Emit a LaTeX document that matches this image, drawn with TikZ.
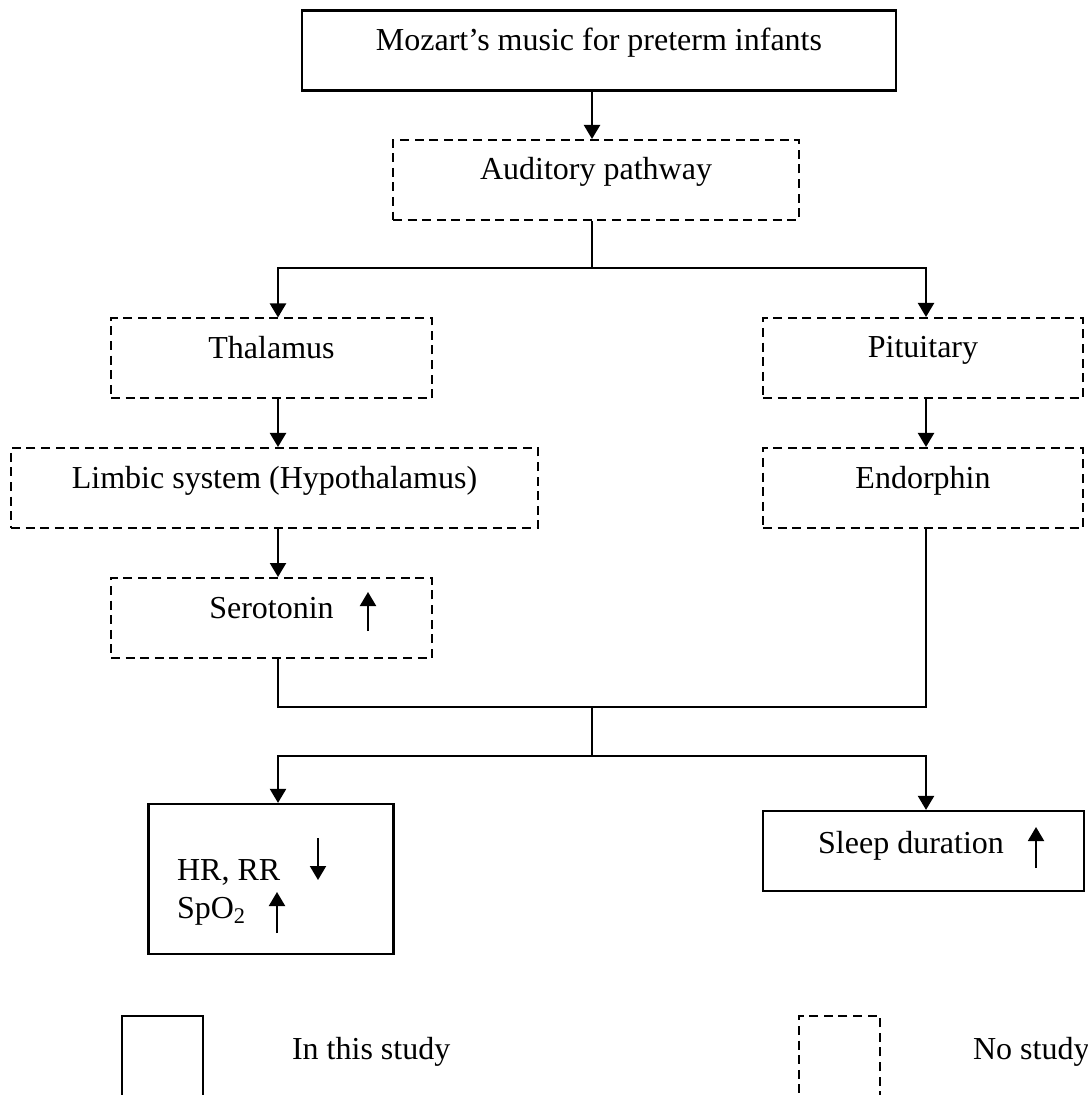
\documentclass[tikz,border=0pt]{standalone}
\usepackage{fontspec}
\setmainfont{Liberation Serif}
\usetikzlibrary{positioning,calc,arrows.meta}
\def\BoxHeight{40pt}
\def\SideWidth{160.5pt}
\def\LegendWidth{40.5pt}
\tikzset{
  signal/.style={-{Triangle[length=7pt,width=8pt]},line width=1.1pt},
  trend/.style={signal,line width=1pt},
  studybox/.style={
    rectangle,
    draw=black,
    line width=1.1pt,
    minimum height=\BoxHeight,
    inner sep=0pt,
    text height=0.3em,
    text depth=0.3em
  },
  nostudybox/.style={
    studybox,
    line width=1pt,
    dash pattern=on 4.5pt off 2.8pt
  }
}

\begin{document}
\begin{tikzpicture}[x=0.5pt,y=-0.5pt,font=\fontsize{16}{19}\selectfont]
  \clip (0,0) rectangle (1087,1095);

  \node[studybox, minimum width=297pt] (mozart) at (599,50.5) {Mozart’s music for preterm infants};
  \node[nostudybox, minimum width=203pt] (auditory) at (596,180) {Auditory pathway};

  % left branch
  \node[nostudybox, minimum width=\SideWidth] (thalamus) at (271.5,358.5) {Thalamus};
  \node[nostudybox, minimum width=263.5pt] (limbic) at (274.5,488) {Limbic system (Hypothalamus)};
  \node[nostudybox, minimum width=\SideWidth] (serotonin) at (271.5,618) {Serotonin};

  % right branch
  \node[nostudybox, minimum width=160pt] (pituitary) at (923,358) {Pituitary};
  \node[nostudybox, minimum width=160pt] (endorphin) at (923,488) {Endorphin};

  % outcomes
  \node[studybox, minimum width=122.5pt, minimum height=75pt] (vitals) at (271,879) {};
  \node[anchor=base west] (hrrr) at ($(vitals.center)+(-101,1)$) {HR, RR};
  \node[anchor=base west] (spo) at ($(vitals.center)+(-101,39)$) {SpO\textsubscript{2}};
  \node[studybox, minimum width=\SideWidth] (sleep) at (923.5,851) {};
  \node[anchor=base] (sleeptext) at ($(sleep.center)+(-12.5,2)$) {Sleep duration};

  % columns of the connectors
  \coordinate (midcol) at (592,0);
  \coordinate (leftcol) at (278,0);
  \coordinate (rightcol) at (926,0);
  \coordinate (split) at (592,268);
  \coordinate (join) at (592,707);
  \coordinate (fork) at (592,756);

  \draw[signal] (midcol |- mozart.south) -- (midcol |- auditory.north);
  \draw[line width=1.1pt] (midcol |- auditory.south) -- (split);
  \draw[signal] (split) -| (leftcol |- thalamus.north);
  \draw[signal] (split) -| (rightcol |- pituitary.north);

  \draw[signal] (leftcol |- thalamus.south) -- (leftcol |- limbic.north);
  \draw[signal] (leftcol |- limbic.south) -- (leftcol |- serotonin.north);
  \draw[signal] (rightcol |- pituitary.south) -- (rightcol |- endorphin.north);

  % both branches meet
  \draw[line width=1.1pt] (leftcol |- serotonin.south) -- (leftcol |- join)
    -- (rightcol |- join) -- (rightcol |- endorphin.south);
  \draw[line width=1.1pt] (join) -- (fork);
  \draw[signal] (fork) -| (leftcol |- vitals.north);
  \draw[signal] (fork) -| (rightcol |- sleep.north);

  % up and down marks
  \draw[trend] ($(serotonin.center)+(96.5,13)$) -- ++(0,-39);
  \draw[trend] ($(vitals.center)+(47,-41)$) -- ++(0,42);
  \draw[trend] ($(vitals.center)+(6,54)$) -- ++(0,-41);
  \draw[trend] ($(sleep.center)+(112.5,17)$) -- ++(0,-41);

  % legend
  \node[studybox, minimum width=\LegendWidth, minimum height=60pt] (legendstudy) at (162.5,1076) {};
  \node[anchor=base west] (legendstudytext) at (285,1059) {In this study};
  \node[nostudybox, minimum width=\LegendWidth, minimum height=60pt] (legendnone) at (839.5,1076) {};
  \node[anchor=base west] (legendnonetext) at (966,1059) {No study};
\end{tikzpicture}
\end{document}
